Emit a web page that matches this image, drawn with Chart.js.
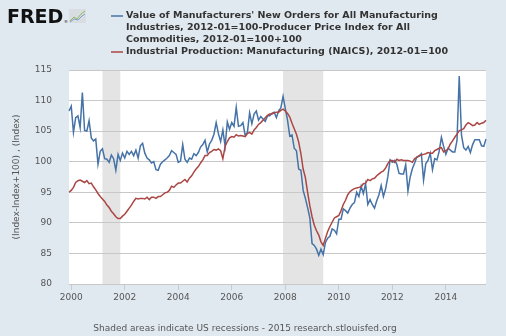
<!DOCTYPE html>
<html>
<head>
<meta charset="utf-8">
<script src="https://cdn.jsdelivr.net/npm/chart.js@4.4.0/dist/chart.umd.min.js"></script>
<style>
  html, body { margin: 0; padding: 0; background: #e1e9f0; }
  canvas { display: block; }
</style>
</head>
<body>
<canvas id="fred-chart" width="506" height="336"></canvas>
<script>
    // monthly, first value is 1999-12
    const startYear = 1999, startMonth = 12;

    // Value of Manufacturers' New Orders ... - PPI + 100
    const orders = [108.3,
        109.1, 104.8, 107.2, 107.5, 105.6, 111.3, 105.1, 105.0, 106.7, 103.9, 103.4, 103.7,
        99.6, 101.7, 102.1, 100.5, 100.4, 99.9, 101.1, 100.5, 98.6, 101.2, 100.2, 101.4,
        100.6, 101.7, 101.2, 101.7, 101.0, 101.9, 100.6, 102.6, 103.0, 101.4, 100.6, 100.3,
        99.8, 100.0, 98.7, 98.6, 99.6, 100.0, 100.3, 100.6, 101.0, 101.8, 101.5, 101.2,
        99.9, 100.1, 102.8, 100.4, 99.9, 100.6, 100.4, 101.3, 101.0, 101.5, 102.4, 102.8,
        103.5, 101.6, 102.9, 103.5, 104.5, 106.4, 104.6, 103.3, 105.2, 102.5, 106.5, 105.3,
        106.4, 105.8, 108.9, 105.8, 105.9, 106.4, 104.3, 104.8, 108.0, 106.2, 107.8, 108.3,
        106.8, 107.4, 107.0, 106.6, 107.5, 107.5, 107.9, 108.1, 107.2, 108.3, 108.8, 110.7,
        108.7, 106.8, 104.2, 104.4, 102.2, 101.8, 98.8, 98.6, 95.3, 94.0, 92.5, 90.8,
        86.6, 86.3, 85.7, 84.7, 85.7, 84.8, 86.8, 87.5, 87.8, 89.0, 88.8, 88.2,
        90.6, 90.6, 92.3, 92.0, 91.6, 92.4, 93.0, 93.3, 95.0, 94.3, 96.0, 94.8,
        96.4, 93.0, 93.8, 93.0, 92.4, 93.6, 94.6, 96.1, 94.3, 95.6, 97.6, 100.3,
        99.9, 100.2, 99.6, 98.1, 98.0, 98.0, 99.5, 95.2, 97.5, 98.9, 99.8, 100.8,
        100.9, 101.3, 97.0, 99.7, 100.2, 101.4, 98.7, 100.5, 100.3, 101.7, 104.0, 102.5,
        101.2, 102.2, 101.9, 101.6, 101.6, 103.5, 114.0, 104.4, 102.3, 101.9, 102.5, 101.5,
        102.8, 103.6, 103.6, 103.6, 102.6, 102.5, 103.7];

    // Industrial Production: Manufacturing (NAICS)
    const production = [95.0,
        95.3, 95.8, 96.6, 96.9, 97.0, 96.8, 96.6, 96.9, 96.4, 96.5, 95.9, 95.4,
        94.8, 94.3, 93.9, 93.5, 92.9, 92.5, 91.9, 91.5, 91.0, 90.7, 90.7, 91.1,
        91.4, 91.9, 92.4, 92.9, 93.5, 94.0, 93.9, 94.0, 94.0, 93.9, 94.2, 93.8,
        94.2, 94.2, 94.0, 94.3, 94.3, 94.6, 94.9, 95.0, 95.3, 96.0, 95.8, 96.2,
        96.5, 96.5, 96.8, 97.1, 96.7, 97.3, 97.7, 98.3, 98.8, 99.2, 99.8, 100.3,
        101.0, 101.0, 101.5, 101.7, 102.0, 101.9, 102.1, 101.8, 100.5, 102.5, 103.3, 103.9,
        104.1, 104.0, 104.4, 104.2, 104.3, 104.2, 104.1, 104.6, 104.8, 104.5, 105.2, 105.6,
        106.1, 106.4, 106.8, 107.2, 107.6, 107.8, 107.8, 108.0, 108.1, 108.1, 108.4, 108.6,
        108.3, 107.9, 107.3, 106.3, 105.4, 104.5, 103.2, 101.3, 98.8, 97.4, 95.0, 92.8,
        91.0, 89.6, 88.7, 88.0, 86.9, 86.3, 87.5, 88.6, 89.4, 90.1, 90.8, 91.0,
        91.2, 92.0, 93.0, 93.7, 94.6, 95.1, 95.4, 95.6, 95.7, 95.8, 95.9, 96.4,
        96.5, 97.1, 96.9, 97.2, 97.3, 97.7, 98.0, 98.3, 98.5, 99.0, 99.7, 100.2,
        100.2, 99.9, 100.4, 100.2, 100.3, 100.2, 100.2, 100.2, 100.1, 99.9, 100.5, 100.7,
        101.0, 101.1, 101.2, 101.3, 101.5, 101.4, 101.4, 101.8, 102.0, 102.2, 102.3, 101.6,
        101.8, 102.1, 102.9, 103.4, 104.0, 104.5, 105.1, 105.2, 105.4, 106.0, 106.4, 106.2,
        105.9, 106.0, 106.4, 106.1, 106.3, 106.4, 106.8];

    const tickYears = [2000, 2002, 2004, 2006, 2008, 2010, 2012, 2014];
    const recessions = [["2001-03", "2001-11"], ["2007-12", "2009-06"]];

    const legendLines = [
        ["Value of Manufacturers' New Orders for All Manufacturing",
         "Industries, 2012-01=100-Producer Price Index for All",
         "Commodities, 2012-01=100+100"],
        ["Industrial Production: Manufacturing (NAICS), 2012-01=100"]
    ];
    const seriesColors = ["#4572a7", "#aa4643"];

    // month labels, "YYYY-MM"
    const months = orders.map(function (v, i) {
        const m = startMonth - 1 + i;
        return (startYear + Math.floor(m / 12)) + "-" + String(m % 12 + 1).padStart(2, "0");
    });

    const FONT = "'DejaVu Sans', sans-serif";

    // white plot + recession bars
    const backdrop = {
        id: "backdrop",
        beforeDraw: function (chart) {
            const ctx = chart.ctx, a = chart.chartArea, x = chart.scales.x;
            ctx.save();
            ctx.fillStyle = "#ffffff";
            ctx.fillRect(a.left, a.top, a.right - a.left, a.bottom - a.top);
            ctx.fillStyle = "#e4e4e4";
            recessions.forEach(function (r) {
                const x0 = x.getPixelForValue(months.indexOf(r[0]));
                const x1 = x.getPixelForValue(months.indexOf(r[1]));
                ctx.fillRect(x0, a.top, x1 - x0, a.bottom - a.top);
            });
            ctx.restore();
        }
    };

    // logo, legend, footer
    const decorations = {
        id: "decorations",
        afterDraw: function (chart) {
            const ctx = chart.ctx;
            ctx.save();
            ctx.textBaseline = "alphabetic";
            ctx.textAlign = "left";
            ctx.fillStyle = "#111111";
            ctx.font = "bold 19px " + FONT;
            ctx.fillText("FRED", 7, 23);
            ctx.font = "4px " + FONT;
            ctx.fillText("®", 64, 23);
            // little graph icon
            ctx.fillStyle = "#d8dde2";
            ctx.fillRect(69, 9, 17, 14);
            ctx.lineWidth = 1;
            ctx.strokeStyle = "#8dbb5c";
            ctx.beginPath();
            ctx.moveTo(70, 21); ctx.lineTo(74, 17); ctx.lineTo(77, 19); ctx.lineTo(81, 14); ctx.lineTo(85, 11);
            ctx.stroke();
            ctx.strokeStyle = "#7c9fc6";
            ctx.beginPath();
            ctx.moveTo(70, 22); ctx.lineTo(74, 19); ctx.lineTo(78, 20); ctx.lineTo(82, 16); ctx.lineTo(85, 14);
            ctx.stroke();

            // legend
            ctx.font = "bold 9.5px " + FONT;
            ctx.textBaseline = "middle";
            let y = 16;
            legendLines.forEach(function (lines, k) {
                ctx.strokeStyle = seriesColors[k];
                ctx.lineWidth = 1.5;
                ctx.beginPath();
                ctx.moveTo(111, y);
                ctx.lineTo(123, y);
                ctx.stroke();
                ctx.fillStyle = "#333333";
                lines.forEach(function (t) {
                    ctx.fillText(t, 126, y);
                    y += 12;
                });
            });

            // footer
            ctx.font = "9px " + FONT;
            ctx.fillStyle = "#555555";
            ctx.textAlign = "center";
            ctx.fillText("Shaded areas indicate US recessions - 2015 research.stlouisfed.org", 245, 329);
            ctx.restore();
        }
    };

    Chart.defaults.font.family = FONT;
    Chart.defaults.color = "#555555";

    const ctx = document.getElementById("fred-chart").getContext("2d");
    const myChart = new Chart(ctx, {
        type: "line",
        data: {
            labels: months,
            datasets: [{
                label: "New Orders - PPI + 100",
                data: orders,
                borderColor: seriesColors[0],
                borderWidth: 1.5,
                pointRadius: 0,
                fill: false,
                order: 1
            },
            {
                label: "Industrial Production: Manufacturing",
                data: production,
                borderColor: seriesColors[1],
                borderWidth: 1.5,
                pointRadius: 0,
                fill: false,
                order: 0
            }]
        },
        options: {
            responsive: false,
            animation: false,
            devicePixelRatio: 1,
            layout: { padding: { left: 0, top: 70, right: 20, bottom: 32 } },
            plugins: {
                legend: { display: false },
                tooltip: { enabled: false }
            },
            scales: {
                x: {
                    type: "category",
                    offset: false,
                    afterBuildTicks: function (axis) {
                        axis.ticks = axis.ticks.filter(function (t) {
                            const l = months[t.value];
                            return l.slice(5) === "01" && tickYears.indexOf(+l.slice(0, 4)) >= 0;
                        });
                    },
                    afterFit: function (axis) { axis.height = 20; },
                    ticks: {
                        autoSkip: false,
                        maxRotation: 0,
                        padding: 2,
                        font: { size: 9 },
                        callback: function (val) { return months[val].slice(0, 4); }
                    },
                    grid: {
                        drawOnChartArea: false,
                        drawTicks: true,
                        tickLength: 6,
                        color: "#c3ccd6"
                    },
                    border: { display: false }
                },
                y: {
                    min: 80,
                    max: 115,
                    afterFit: function (axis) { axis.width = 69; },
                    ticks: {
                        stepSize: 5,
                        padding: 17,
                        font: { size: 9 }
                    },
                    grid: {
                        color: "#c8c8c8",
                        drawTicks: false
                    },
                    border: { display: false },
                    title: {
                        display: true,
                        text: "(Index-Index+100) , (Index)",
                        font: { size: 9 },
                        color: "#555555",
                        padding: { top: 11.6, bottom: 0 }
                    }
                }
            }
        },
        plugins: [backdrop, decorations]
    });
</script>
</body>
</html>
